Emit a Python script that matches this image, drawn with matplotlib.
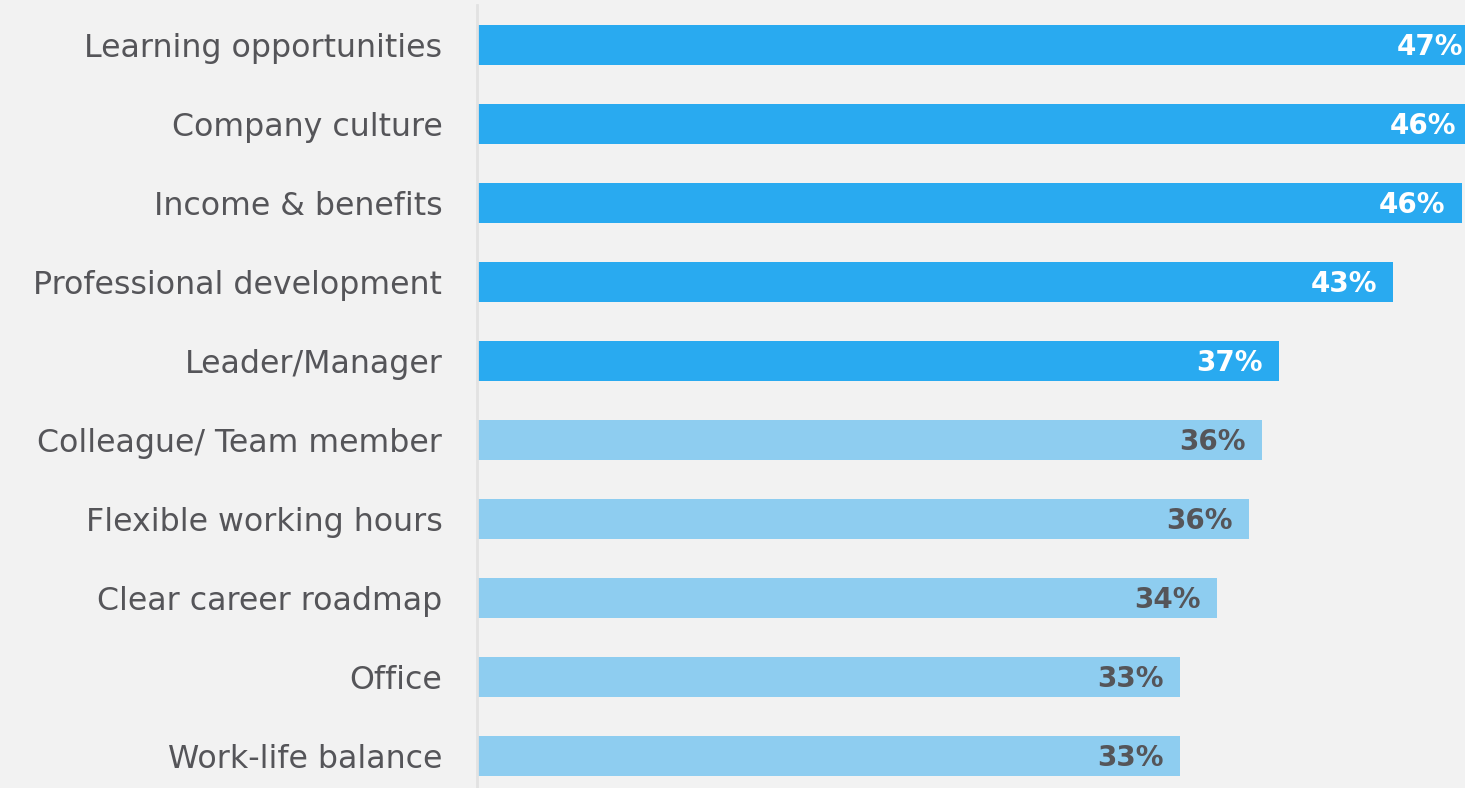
import matplotlib
matplotlib.use("Agg")
import matplotlib.pyplot as plt
from matplotlib.transforms import ScaledTranslation

categories = [
    "Learning opportunities",
    "Company culture",
    "Income & benefits",
    "Professional development",
    "Leader/Manager",
    "Colleague/ Team member",
    "Flexible working hours",
    "Clear career roadmap",
    "Office",
    "Work-life balance",
]
values = [46.6, 46.3, 45.8, 42.6, 37.3, 36.5, 35.9, 34.4, 32.7, 32.7]
n_highlight = 5

dark_blue = "#29aaf0"
light_blue = "#8ecdf0"
bg = "#f2f2f2"
text_grey = "#555559"

fig = plt.figure(figsize=(14.65, 7.88), dpi=100, facecolor=bg)
ax = fig.add_axes([477 / 1465, 0, 1 - 477 / 1465, 783 / 788])
ax.set_facecolor(bg)

colors = [dark_blue if i < n_highlight else light_blue for i in range(len(values))]
ys = list(range(len(values)))
ax.barh(ys, values, height=0.506, color=colors, clip_on=True)

ax.set_xlim(0, 988 / 21.5)
ax.set_ylim(9.405, -0.506)

# value labels sit just inside the end of each bar
for y, v, c in zip(ys, values, colors):
    lc = "white" if c == dark_blue else text_grey
    ax.text(v - 0.75, y + 0.03, f"{round(v)}%", ha="right", va="center",
            color=lc, fontsize=20, fontweight="bold", family="DejaVu Sans",
            clip_on=False)

ax.set_yticks(ys)
ax.set_yticklabels(categories, fontsize=22.8, color=text_grey, family="DejaVu Sans")
# nudge category names up a touch
nudge = ScaledTranslation(0, 2 / 72, fig.dpi_scale_trans)
for lbl in ax.get_yticklabels():
    lbl.set_transform(lbl.get_transform() + nudge)
ax.tick_params(axis="y", length=0, pad=25)
ax.set_xticks([])

for side in ("top", "right", "bottom"):
    ax.spines[side].set_visible(False)
ax.spines["left"].set_color("#e2e2e2")
ax.spines["left"].set_linewidth(2)

fig.savefig("out.png", dpi=100, facecolor=bg)
